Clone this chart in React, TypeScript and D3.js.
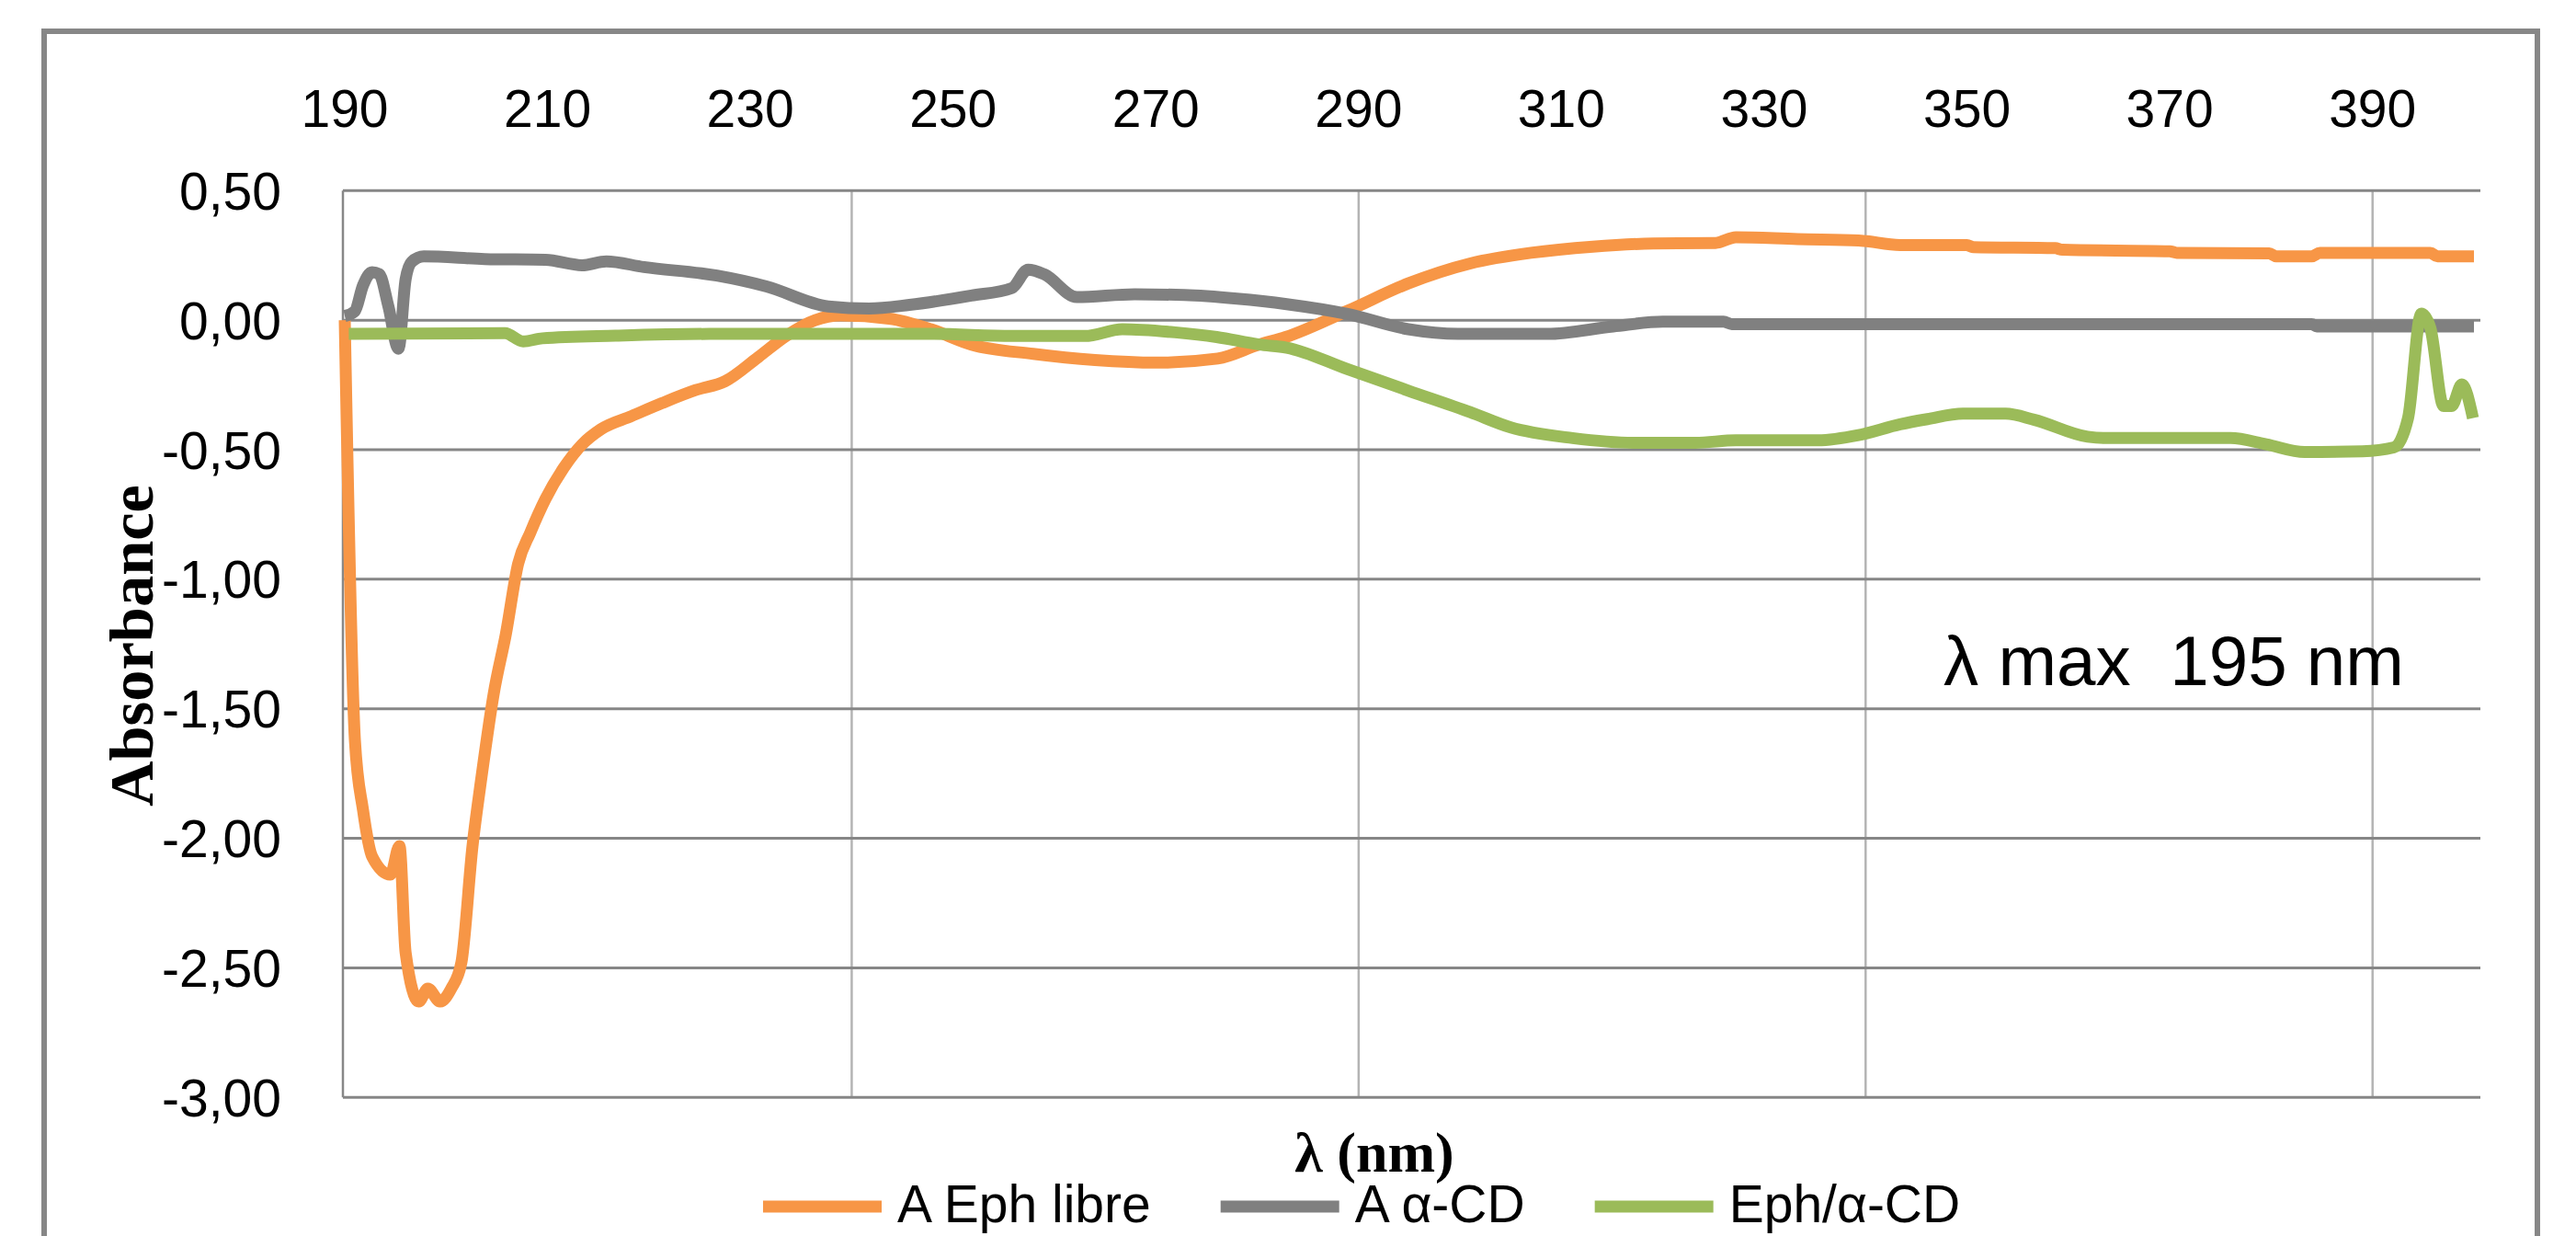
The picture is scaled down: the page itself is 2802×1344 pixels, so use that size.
import React, { useEffect, useRef } from 'react';
import * as d3 from 'd3';

const W = 2802;
const H = 1344;

// wavelength tick labels (nm) and gridline positions
const xTicks = [190, 210, 230, 250, 270, 290, 310, 330, 350, 370, 390];
const xGrid = [240, 290, 340, 390];
const yTicks = [0.5, 0, -0.5, -1, -1.5, -2, -2.5, -3];

// [nm, absorbance]
const ephLibre: [number, number][] = [
  [190, 0], [191, -1.62], [191.8, -1.89], [192.7, -2.07], [194.5, -2.14], [195.4, -2.03],
  [196, -2.44], [197.3, -2.63], [198.2, -2.58], [199.4, -2.63], [200.5, -2.58], [201.5, -2.48],
  [202.6, -2.03], [203.5, -1.76], [204.7, -1.44], [205.9, -1.21], [207.1, -0.94], [208.3, -0.82],
  [209.8, -0.69], [211.6, -0.57], [213.4, -0.48], [215.3, -0.42], [218.3, -0.37], [221.3, -0.32],
  [224.6, -0.27], [227.5, -0.236], [230.8, -0.142], [233.6, -0.059], [236.4, 0], [238.9, 0.018],
  [243.7, 0.006], [247.8, -0.035], [251.8, -0.094], [257.9, -0.13], [264, -0.154], [270, -0.164],
  [276.1, -0.148], [280.2, -0.094], [282.8, -0.065], [288.9, 0.036], [294.9, 0.142], [301, 0.219],
  [307, 0.26], [313.1, 0.284], [319.1, 0.296], [325.2, 0.298], [327.2, 0.32], [333.3, 0.313],
  [339.3, 0.308], [343.4, 0.29], [350, 0.29], [350.6, 0.282], [358.7, 0.278], [359.4, 0.272],
  [370, 0.266], [370.7, 0.26], [379.8, 0.258], [380.5, 0.246], [384, 0.246], [384.8, 0.26],
  [395.7, 0.26], [396.4, 0.246], [400, 0.246],
];

const alphaCd: [number, number][] = [
  [190, 0.016], [191, 0.035], [191.8, 0.134], [192.7, 0.185], [193.4, 0.178], [194.3, 0.054],
  [195.3, -0.11], [196, 0.157], [196.6, 0.225], [197.8, 0.246], [203.8, 0.236], [209.8, 0.233],
  [213.4, 0.212], [215.8, 0.227], [219.5, 0.205], [226.7, 0.172], [231.6, 0.13], [237.7, 0.053],
  [241.7, 0.045], [245.7, 0.059], [251.8, 0.095], [255.8, 0.124], [257.4, 0.195], [259, 0.177],
  [262.2, 0.089], [267.9, 0.1], [272.8, 0.097], [278, 0.083], [282.9, 0.062], [288.9, 0.024],
  [294.9, -0.035], [299.8, -0.053], [308.6, -0.053], [315.1, -0.024], [320, -0.006], [326, -0.006],
  [326.8, -0.015], [384, -0.015], [384.5, -0.024], [400, -0.024],
];

const ephAlphaCd: [number, number][] = [
  [190.4, -0.053], [205.8, -0.05], [207.6, -0.082], [209.5, -0.07], [216.7, -0.06], [226, -0.053],
  [247.8, -0.053], [255.8, -0.061], [263, -0.061], [266.7, -0.035], [271.9, -0.047], [276, -0.065],
  [280.2, -0.094], [282.9, -0.106], [288.9, -0.189], [294.9, -0.272], [301, -0.355], [305, -0.414],
  [311.1, -0.455], [317.1, -0.473], [323.2, -0.473], [327.2, -0.464], [335.3, -0.464], [339.3, -0.444],
  [343.4, -0.402], [346.1, -0.382], [349.6, -0.361], [353.8, -0.361], [356.6, -0.384], [361.9, -0.45],
  [363.6, -0.455], [376, -0.455], [379.5, -0.479], [383.3, -0.509], [389, -0.506], [392.1, -0.491],
  [393.5, -0.378], [394.8, 0.025], [395.7, -0.03], [397, -0.331], [397.8, -0.331], [398.8, -0.248],
  [399.9, -0.378],
];

const seriesNames = ['A Eph libre', 'A α-CD', 'Eph/α-CD'];
const seriesColors = ['#F79646', '#808080', '#9BBB59'];
const seriesData = [ephLibre, alphaCd, ephAlphaCd];

const sans = "'Liberation Sans', Arial, sans-serif";
const serif = "'Liberation Serif', 'Times New Roman', serif";

export default function App() {
  const ref = useRef<SVGSVGElement>(null);

  useEffect(() => {
    const svg = d3.select(ref.current);
    svg.selectAll('*').remove();

    const plot = { left: 373, right: 2698, top: 207.3, bottom: 1193.3 };

    const x = d3.scaleLinear().domain([190, 400]).range([plot.left + 2, plot.right - 7]);
    const y = d3.scaleLinear().domain([-3, 0.5]).range([plot.bottom, plot.top]);

    const fmt = d3.formatLocale({
      decimal: ',', thousands: '.', grouping: [3], currency: ['', ''], minus: '-',
    }).format('.2f');

    svg.append('rect')
      .attr('width', W).attr('height', H).attr('fill', '#fff');

    // outer chart frame
    svg.append('rect')
      .attr('x', 48).attr('y', 34)
      .attr('width', 2712).attr('height', 1400)
      .attr('fill', 'none')
      .attr('stroke', '#878787')
      .attr('stroke-width', 6);

    // vertical gridlines
    svg.append('g').selectAll('line').data(xGrid).enter().append('line')
      .attr('x1', d => x(d)).attr('x2', d => x(d))
      .attr('y1', plot.top).attr('y2', plot.bottom)
      .attr('stroke', '#b4b4b4')
      .attr('stroke-width', 2.5);

    // horizontal gridlines
    svg.append('g').selectAll('line').data(yTicks).enter().append('line')
      .attr('x1', plot.left).attr('x2', plot.right)
      .attr('y1', d => y(d)).attr('y2', d => y(d))
      .attr('stroke', '#868686')
      .attr('stroke-width', 3);

    // value axis line
    svg.append('line')
      .attr('x1', plot.left).attr('x2', plot.left)
      .attr('y1', plot.top).attr('y2', plot.bottom)
      .attr('stroke', '#878787')
      .attr('stroke-width', 2.5);

    // tick labels
    svg.append('g').selectAll('text').data(xTicks).enter().append('text')
      .attr('x', d => x(d)).attr('y', 138)
      .attr('text-anchor', 'middle')
      .attr('font-family', sans).attr('font-size', 57)
      .attr('fill', '#000')
      .text(d => d);

    svg.append('g').selectAll('text').data(yTicks).enter().append('text')
      .attr('x', 306).attr('y', d => y(d) + 20.5)
      .attr('text-anchor', 'end')
      .attr('font-family', sans).attr('font-size', 57)
      .attr('fill', '#000')
      .text(d => fmt(d));

    // series
    const line = d3.line<[number, number]>()
      .x(d => x(d[0]))
      .y(d => y(d[1]))
      .curve(d3.curveMonotoneX);

    seriesData.forEach((s, i) => {
      svg.append('path')
        .datum(s)
        .attr('d', line)
        .attr('fill', 'none')
        .attr('stroke', seriesColors[i])
        .attr('stroke-width', 13)
        .attr('stroke-linejoin', 'round')
        .attr('stroke-linecap', 'butt');
    });

    // axis titles
    svg.append('text')
      .attr('transform', 'translate(166,702) rotate(-90)')
      .attr('text-anchor', 'middle')
      .attr('font-family', serif).attr('font-weight', 'bold').attr('font-size', 68)
      .attr('textLength', 350).attr('lengthAdjust', 'spacingAndGlyphs')
      .text('Absorbance');

    svg.append('text')
      .attr('x', 1495).attr('y', 1274)
      .attr('text-anchor', 'middle')
      .attr('font-family', serif).attr('font-weight', 'bold').attr('font-size', 62)
      .text('λ (nm)');

    // annotation
    svg.append('text')
      .attr('x', 2114).attr('y', 745)
      .attr('font-family', sans).attr('font-size', 76)
      .attr('textLength', 501).attr('lengthAdjust', 'spacingAndGlyphs')
      .style('white-space', 'pre')
      .text('λ max  195 nm');

    // legend
    let lx = 830;
    const ly = 1312;
    seriesNames.forEach((name, i) => {
      svg.append('line')
        .attr('x1', lx).attr('x2', lx + 129)
        .attr('y1', ly).attr('y2', ly)
        .attr('stroke', seriesColors[i])
        .attr('stroke-width', 13);
      const t = svg.append('text')
        .attr('x', lx + 146).attr('y', 1329)
        .attr('font-family', sans).attr('font-size', 57)
        .attr('fill', '#000')
        .text(name);
      const len = (t.node() as SVGTextElement).getComputedTextLength();
      lx = lx + 146 + len + 76;
    });
  }, []);

  return (
    <svg
      ref={ref}
      width={W}
      height={H}
      style={{ position: 'absolute', left: 0, top: 0, display: 'block' }}
    />
  );
}
